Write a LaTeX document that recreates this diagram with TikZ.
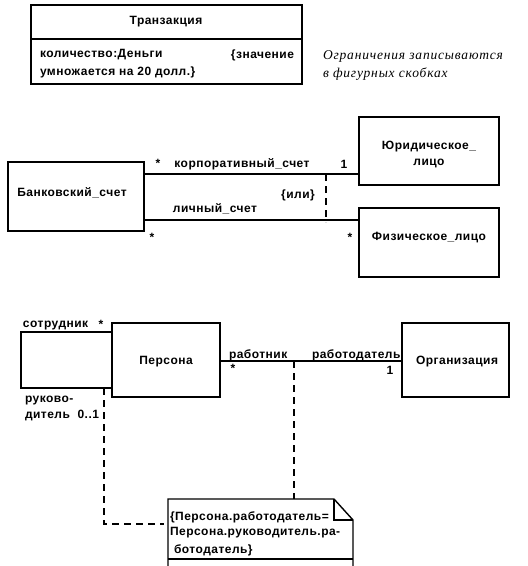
\documentclass[tikz,border=0pt]{standalone}
\usepackage{fontspec}
\setmainfont{Liberation Sans}[LetterSpace=4]
\newfontfamily\notefont{Liberation Serif}[LetterSpace=6]
\begin{document}
\begin{tikzpicture}[x=1pt,y=-1pt,
  every node/.style={inner sep=0pt,outer sep=0pt,font=\bfseries\fontsize{12}{14}\selectfont},
  box/.style={draw,line width=2pt,anchor=north west},
  conn/.style={line width=2pt},
  dconn/.style={line width=2pt,dash pattern=on 7pt off 5pt},
  lbl/.style={anchor=west},
  ital/.style={anchor=west,font=\notefont\itshape\fontsize{13.5}{15}\selectfont}]
\useasboundingbox (0,0) rectangle (528,566);

% --- Transaction ---
\node[box,minimum width=271pt,minimum height=79pt] (tr) at (31,5) {};
\draw[conn] (31,39) -- (302,39);
\node (trname) at (166,22) {Транзакция};
\node[lbl] (attr1) at (40,55) {количество:Деньги};
\node[anchor=east] (attr2) at (294,55) {\{значение};
\node[lbl] (attr3) at (40,72) {умножается на 20 долл.\}};
\node[ital] (c1) at (323,56) {Ограничения записываются};
\node[ital] (c2) at (323,74) {в фигурных скобках};

% --- Bank accounts ---
\node[box,minimum width=136pt,minimum height=69pt] (bank) at (8,162) {};
\node (bankt) at (72,193) {Банковский\_счет};
\node[box,minimum width=140pt,minimum height=68pt] (jur) at (359,117) {};
\node (jurt) at (429,147) {Юридическое\_};
\node (jurt2) at (429,163) {лицо};
\node[box,minimum width=140pt,minimum height=69pt] (fiz) at (359,208) {};
\node (fizt) at (429,238) {Физическое\_лицо};

\coordinate (b1) at (144,174);
\coordinate (b2) at (144,220);
\draw[conn] (b1) -- (b1 -| jur.west) coordinate (j1);
\draw[conn] (b2) -- (b2 -| fiz.west) coordinate (f1);
\coordinate (o1) at (326,174);
\coordinate (o2) at (326,222);
\draw[dconn] (o1) -- (o2);

\node (m1) at (158,163) {*};
\node (r1) at (242,164) {корпоративный\_счет};
\node (m2) at (344,164) {1};
\node (orc) at (298,195) {\{или\}};
\node (r2) at (215,209) {личный\_счет};
\node (m3) at (152,237) {*};
\node (m4) at (350,237) {*};

% --- Persona / Organisation ---
\node[box,minimum width=108pt,minimum height=74pt] (pers) at (112,323) {};
\node (perst) at (166,362) {Персона};
\node[box,minimum width=107pt,minimum height=74pt] (org) at (402,323) {};
\node (orgt) at (457,362) {Организация};

\coordinate (l1) at (112,332);
\coordinate (l2) at (21,332);
\coordinate (l3) at (21,388);
\coordinate (l4) at (112,388);
\draw[conn] (l1) -- (l2) -- (l3) -- (l4);
\node[lbl] (s1) at (23,326) {сотрудник};
\node (s2) at (101,324) {*};
\node[lbl] (s3) at (25,401) {руково-};
\node[lbl] (s4) at (25,415) {дитель\ \ 0..1};

\coordinate (p1) at (220,361);
\draw[conn] (p1) -- (p1 -| org.west);
\node[lbl] (w1) at (229,355) {работник};
\node (w2) at (233,368) {*};
\node[lbl] (w3) at (312,355) {работодатель};
\node (w4) at (390,370) {1};

% --- Note ---
\coordinate (n1) at (168,566);
\coordinate (n2) at (168,499);
\coordinate (n3) at (334,499);
\coordinate (n4) at (353,520);
\coordinate (n5) at (353,566);
\draw[line width=1.4pt] (n1) -- (n2) -- (n3) -- (n4) -- (n5);
\draw[line width=1.2pt] (n3) -- (334,520) -- (n4);
\draw[line width=1.4pt] (168,559) -- (353,559);
\node[lbl] (nt1) at (170,517) {\{Персона.работодатель=};
\node[lbl] (nt2) at (170,533) {Персона.руководитель.ра-};
\node[lbl] (nt3) at (174,550) {ботодатель\}};

\coordinate (d1) at (294,361);
\draw[dconn] (d1) -- (294,499);
\coordinate (d2) at (104,388);
\coordinate (d3) at (104,524);
\draw[dconn] (d2) -- (d3) -- (164,524);
\end{tikzpicture}
\end{document}
